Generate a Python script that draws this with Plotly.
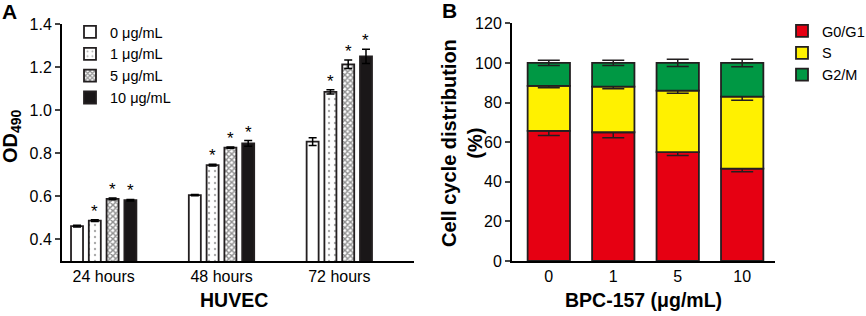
import plotly.graph_objects as go

# ---------------- Panel A data ----------------
time_labels = ["24 hours", "48 hours", "72 hours"]
dose_labels = ["0 μg/mL", "1 μg/mL", "5 μg/mL", "10 μg/mL"]
od_0 = [0.462, 0.606, 0.854]
od_1 = [0.487, 0.745, 1.085]
od_5 = [0.588, 0.826, 1.213]
od_10 = [0.582, 0.846, 1.250]
od_err_0 = [0.004, 0.003, 0.018]
od_err_1 = [0.004, 0.004, 0.010]
od_err_5 = [0.004, 0.003, 0.020]
od_err_10 = [0.004, 0.013, 0.033]
od_star_0 = [False, False, False]
od_star_1 = [True, True, True]
od_star_5 = [True, True, True]
od_star_10 = [True, True, True]

# ---------------- Panel B data ----------------
bpc_labels = ["0", "1", "5", "10"]
g0g1 = [65.7, 65.0, 55.0, 46.6]
s_phase = [22.7, 23.0, 31.0, 36.4]
g2m = [11.6, 12.0, 14.0, 17.0]
g0g1_err = [2.3, 2.8, 1.8, 1.5]
s_err = [0.9, 1.1, 1.3, 1.9]
g2m_err = [1.3, 1.3, 1.8, 1.9]
phase_labels = ["G0/G1", "S", "G2/M"]

W, H = 866, 316
FONT = "Liberation Sans, Arial, sans-serif"
EDGE = "#231F20"

fig = go.Figure()

bargap, bargroupgap = 0.396, 0.325
slot = (1 - bargap) / 4
xs = list(range(len(time_labels)))

a_series = [
    (od_0, od_err_0, od_star_0, dict(color="white")),
    (od_1, od_err_1, od_star_1, dict(color="white", pattern=dict(shape=".", fgcolor="#555555", bgcolor="white", size=6, solidity=0.12))),
    (od_5, od_err_5, od_star_5, dict(color="white", pattern=dict(shape="x", fgcolor="#222222", bgcolor="white", size=4, solidity=0.6))),
    (od_10, od_err_10, od_star_10, dict(color="#1a1718")),
]
annotations = []
for j, (vals, errs, stars, mk) in enumerate(a_series):
    fig.add_trace(go.Bar(
        x=xs, y=vals, name=dose_labels[j], xaxis="x", yaxis="y", legend="legend",
        marker=dict(line=dict(color=EDGE, width=1.8), **mk),
        error_y=dict(type="data", array=errs, visible=True, color="black", thickness=1.5, width=4),
    ))
    off = (j - 1.5) * slot
    for i, (v, e, st) in enumerate(zip(vals, errs, stars)):
        if st:
            annotations.append(dict(x=xs[i] + off, y=v + e, xref="x", yref="y", text="*",
                                    showarrow=False, yanchor="bottom", yshift=-3,
                                    font=dict(size=17, color="black", family=FONT)))

# Panel B stacked via explicit base
bx = list(range(len(bpc_labels)))
b_colors = ["#E60012", "#FFF100", "#009844"]
b_vals = [g0g1, s_phase, g2m]
b_errs = [g0g1_err, s_err, g2m_err]
base = [0.0] * len(bx)
bw = 0.657
for k in range(3):
    fig.add_trace(go.Bar(
        x=bx, y=b_vals[k], base=list(base), name=phase_labels[k], xaxis="x2", yaxis="y2",
        legend="legend2", width=bw, offset=-bw / 2,
        marker=dict(color=b_colors[k], line=dict(color=EDGE, width=1.8)),
        error_y=dict(type="data", array=b_errs[k], visible=True, color=EDGE, thickness=1.5, width=11),
    ))
    base = [b + v for b, v in zip(base, b_vals[k])]

def ptxt(text, x, y, size, angle=0, xanchor="center", yanchor="middle"):
    return dict(x=x / W, y=1 - y / H, xref="paper", yref="paper", text=text, showarrow=False,
                xanchor=xanchor, yanchor=yanchor, textangle=angle,
                font=dict(size=size, color="black", family=FONT))

annotations += [
    ptxt("<b>A</b>", 0, 12, 21, xanchor="left"),
    ptxt("<b>B</b>", 440, 11, 21, xanchor="left"),
    ptxt("<b>OD<sub>490</sub></b>", 11, 136, 20, angle=-90),
    ptxt("<b>Cell cycle distribution<br>(%)</b>", 462, 143, 20, angle=-90),
    ptxt("<b>HUVEC</b>", 234, 300, 19.5),
    ptxt("<b>BPC-157 (μg/mL)</b>", 643, 300, 19.5),
]

ax_common = dict(showline=True, linecolor="black", linewidth=2, showgrid=False, zeroline=False,
                 automargin=False, tickfont=dict(size=16, color="black", family=FONT))

fig.update_layout(
    width=W, height=H, margin=dict(l=0, r=0, t=0, b=0, autoexpand=False),
    paper_bgcolor="white", plot_bgcolor="white",
    barmode="group", bargap=bargap, bargroupgap=bargroupgap,
    font=dict(family=FONT, color="black"),
    xaxis=dict(domain=[62 / W, 414 / W], range=[-0.354, 2.634], tickvals=xs, ticktext=time_labels,
               ticks="", anchor="y", **ax_common),
    yaxis=dict(domain=[55 / H, 292 / H], range=[0.3, 1.4], tickvals=[0.4, 0.6, 0.8, 1.0, 1.2, 1.4],
               tickformat=".1f", ticks="outside", ticklen=5, tickwidth=2, anchor="x", **ax_common),
    xaxis2=dict(domain=[512 / W, 775 / W], range=[-0.571, 3.509], tickvals=bx, ticktext=bpc_labels,
                ticks="", anchor="y2", **ax_common),
    yaxis2=dict(domain=[55 / H, 292.7 / H], range=[0, 120], tickvals=[0, 20, 40, 60, 80, 100, 120],
                ticks="outside", ticklen=5, tickwidth=2, anchor="x2", **ax_common),
    legend=dict(x=70 / W, y=1 - 16 / H, xanchor="left", yanchor="top", bgcolor="rgba(0,0,0,0)",
                font=dict(size=14.5, family=FONT), tracegroupgap=0, itemwidth=30),
    legend2=dict(x=782 / W, y=1 - 15 / H, xanchor="left", yanchor="top", bgcolor="rgba(0,0,0,0)",
                 font=dict(size=14.5, family=FONT), tracegroupgap=0, itemwidth=30),
    annotations=annotations,
    showlegend=True,
)

fig.write_html("out.html")
